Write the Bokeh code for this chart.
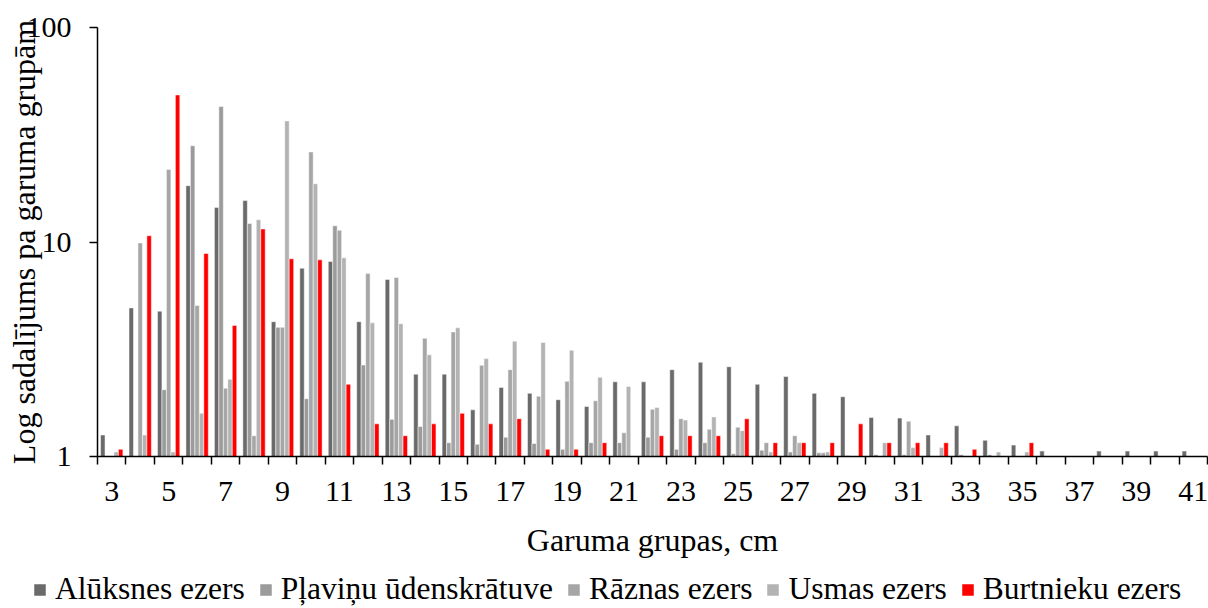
from bokeh.plotting import figure
from bokeh.models import (Range1d, FixedTicker, Legend, LegendItem,
                          ColumnDataSource, PrintfTickFormatter)
from bokeh.embed import file_html
from bokeh.resources import INLINE

# Length groups, cm
lengths = list(range(3, 42))
tick_labels = [str(v) for v in range(3, 42, 2)]

# Share per length group for each lake (0 = no fish in the group)
aluksnes = [1.26, 4.93, 4.76, 18.3, 14.5, 15.6, 4.25, 7.55, 8.11, 4.25,
            6.69, 2.42, 2.42, 1.65, 2.10, 1.97, 1.84, 1.71, 2.23, 2.23,
            2.54, 2.75, 2.62, 2.17, 2.36, 1.97, 1.90, 1.52, 1.51, 1.26,
            1.39, 1.19, 1.13, 1.06, 0, 1.06, 1.06, 1.06, 1.06]
plavinu = [0, 0, 2.05, 28.1, 42.8, 12.2, 4.0, 1.86, 11.9, 2.67,
           1.49, 1.38, 1.16, 1.14, 1.23, 1.15, 1.08, 1.16, 1.16, 1.23,
           1.08, 1.16, 1.03, 1.07, 1.05, 1.04, 1.01, 1.02, 1.02, 0,
           1.02, 1.02, 0, 0, 0, 0, 0, 0, 0]
raznas = [0, 9.9, 21.8, 5.06, 2.08, 1.25, 4.0, 26.3, 11.35, 7.13,
          6.83, 3.56, 3.81, 2.66, 2.54, 1.91, 2.24, 1.82, 1.29, 1.66,
          1.50, 1.34, 1.37, 1.16, 1.25, 1.04, 0, 0, 1.46, 0,
          0, 0, 0, 0, 0, 0, 0, 0, 0]
usmas = [1.05, 1.26, 1.05, 1.59, 2.29, 12.7, 36.7, 18.7, 8.44, 4.2,
         4.16, 2.98, 3.98, 2.86, 3.45, 3.40, 3.13, 2.34, 2.12, 1.69,
         1.48, 1.53, 1.32, 1.05, 1.16, 1.05, 0, 1.16, 1.10, 1.10,
         0, 1.05, 1.05, 0, 0, 0, 0, 0, 0]
burtnieku = [1.08, 10.7, 48.5, 8.84, 4.08, 11.5, 8.35, 8.26, 2.17, 1.42,
             1.25, 1.42, 1.59, 1.42, 1.50, 1.08, 1.08, 1.16, 0, 1.25,
             1.25, 1.25, 1.50, 1.16, 1.16, 1.16, 1.42, 1.16, 1.16, 1.16,
             1.08, 0, 1.16, 0, 0, 0, 0, 0, 0]

series_names = ["Alūksnes ezers", "Pļaviņu ūdenskrātuve", "Rāznas ezers",
                "Usmas ezers", "Burtnieku ezers"]
series_values = [aluksnes, plavinu, raznas, usmas, burtnieku]
series_colors = ["#6a6a6a", "#9b9b9b", "#a6a6a6", "#b3b3b3", "#ff0000"]

FONT = "Liberation Serif"
bar_w = 0.157

p = figure(width=1208, height=570, y_axis_type="log",
           x_range=Range1d(2.5, 41.5), y_range=Range1d(1, 100),
           output_backend="svg", toolbar_location=None,
           min_border_left=97, min_border_right=1,
           min_border_top=27, min_border_bottom=114)
p.background_fill_color = "white"
p.border_fill_color = "white"
p.outline_line_color = None
p.xgrid.visible = False
p.ygrid.visible = False

# Strip below the chart that carries the legend (no axes, frame fills it)
leg_fig = figure(width=1208, height=38, x_range=Range1d(0, 1), y_range=Range1d(0, 1),
                 x_axis_location=None, y_axis_location=None,
                 output_backend="svg", toolbar_location=None, min_border=0)
leg_fig.grid.visible = False
leg_fig.outline_line_color = None
leg_fig.background_fill_color = "white"
leg_fig.border_fill_color = "white"

items = []
n = len(series_names)
for i, (name, vals, col) in enumerate(zip(series_names, series_values, series_colors)):
    off = (i - (n - 1) / 2) * bar_w
    xs = [c + off for c, v in zip(lengths, vals) if v > 0]
    tops = [v for v in vals if v > 0]
    src = ColumnDataSource(dict(x=xs, top=tops))
    style = dict(fill_color=col, line_color="white", line_width=0.5)
    p.vbar(x="x", top="top", bottom=1, width=bar_w, source=src, **style)
    # same series in the legend strip (outside its visible ranges)
    r_leg = leg_fig.vbar(x="x", top="top", bottom=1, width=bar_w, source=src, **style)
    items.append(LegendItem(label=name, renderers=[r_leg]))

# x axis: labels on odd groups, tick marks on group boundaries
xa = p.xaxis[0]
xa.ticker = FixedTicker(ticks=list(range(3, 42, 2)),
                        minor_ticks=[c - 0.5 for c in lengths] + [lengths[-1] + 0.5])
xa.major_label_overrides = {v: s for v, s in zip(range(3, 42, 2), tick_labels)}
xa.major_tick_out = 0
xa.major_tick_in = 0
xa.minor_tick_out = 8
xa.minor_tick_in = 0
xa.minor_tick_line_width = 1.5
xa.minor_tick_line_color = "black"
xa.axis_line_width = 1.5
xa.axis_line_color = "black"
xa.major_label_text_font = FONT
xa.major_label_text_font_size = "30px"
xa.major_label_text_color = "black"
xa.major_label_standoff = 17
xa.axis_label = "Garuma grupas, cm"
xa.axis_label_text_font = FONT
xa.axis_label_text_font_size = "32px"
xa.axis_label_text_font_style = "normal"
xa.axis_label_text_color = "black"
xa.axis_label_standoff = 18

ya = p.yaxis[0]
ya.ticker = FixedTicker(ticks=[1, 10, 100], minor_ticks=[])
ya.formatter = PrintfTickFormatter(format="%d")
ya.major_tick_out = 8
ya.major_tick_in = 0
ya.major_tick_line_width = 1.5
ya.major_tick_line_color = "black"
ya.minor_tick_out = 0
ya.minor_tick_in = 0
ya.axis_line_width = 1.5
ya.axis_line_color = "black"
ya.major_label_text_font = FONT
ya.major_label_text_font_size = "30px"
ya.major_label_text_color = "black"
ya.major_label_standoff = 18
ya.axis_label = "Log sadalījums pa garuma grupām"
ya.axis_label_text_font = FONT
ya.axis_label_text_font_size = "32px"
ya.axis_label_text_font_style = "normal"
ya.axis_label_text_color = "black"
ya.axis_label_standoff = -18

legend = Legend(items=items, orientation="horizontal",
                location=(32, 1),
                glyph_width=15, glyph_height=15, label_standoff=8,
                spacing=13, padding=0, margin=0,
                label_text_font=FONT, label_text_font_size="31.5px",
                label_text_color="black",
                border_line_alpha=0, background_fill_alpha=0)
leg_fig.add_layout(legend, "center")

# chart and legend strip as two stacked roots
open("out.html", "w").write(file_html([p, leg_fig], INLINE))
